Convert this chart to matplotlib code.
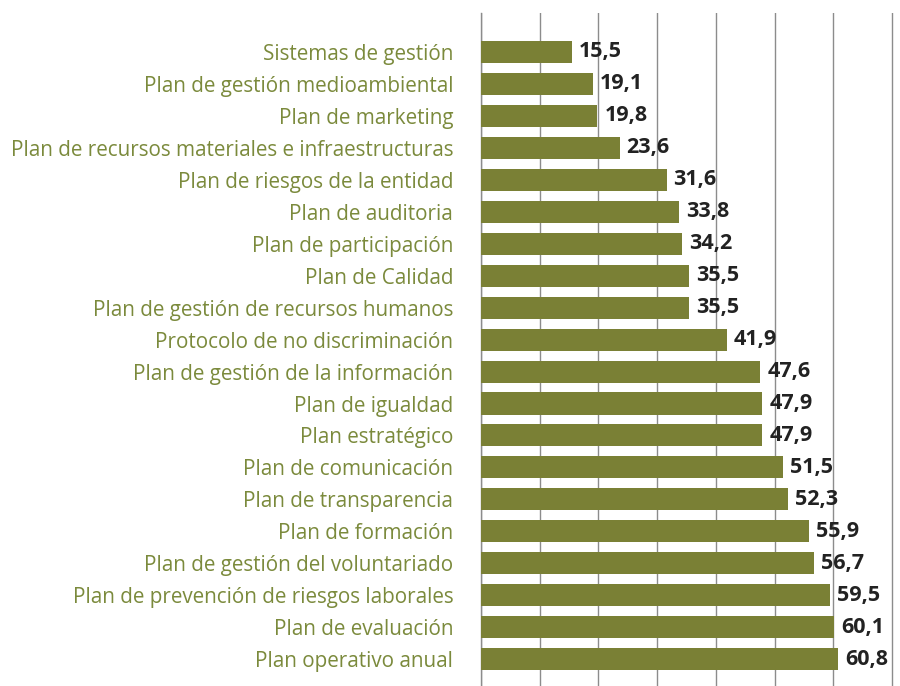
import matplotlib
matplotlib.use("Agg")
import matplotlib.pyplot as plt

categories = [
    "Sistemas de gestión",
    "Plan de gestión medioambiental",
    "Plan de marketing",
    "Plan de recursos materiales e infraestructuras",
    "Plan de riesgos de la entidad",
    "Plan de auditoria",
    "Plan de participación",
    "Plan de Calidad",
    "Plan de gestión de recursos humanos",
    "Protocolo de no discriminación",
    "Plan de gestión de la información",
    "Plan de igualdad",
    "Plan estratégico",
    "Plan de comunicación",
    "Plan de transparencia",
    "Plan de formación",
    "Plan de gestión del voluntariado",
    "Plan de prevención de riesgos laborales",
    "Plan de evaluación",
    "Plan operativo anual",
]
values = [15.5, 19.1, 19.8, 23.6, 31.6, 33.8, 34.2, 35.5, 35.5, 41.9,
          47.6, 47.9, 47.9, 51.5, 52.3, 55.9, 56.7, 59.5, 60.1, 60.8]
value_labels = [f"{v:.1f}".replace(".", ",") for v in values]

bar_color = "#7a8035"
label_color = "#7b8a3c"

fig = plt.figure(figsize=(9, 6.86), dpi=100)
ax = fig.add_axes([481/900, 0, 413/900, 1 - 13/686])

ypos = list(range(len(categories)))
ax.barh(ypos, values, height=0.69, color=bar_color, zorder=3)

ax.set_xlim(0, 70 * 413 / 411)
ax.set_ylim(19.84, -1.22)
ax.set_xticks(range(0, 71, 10))
ax.xaxis.grid(True, color="#8c8c8c", linewidth=1.0, zorder=0)
ax.tick_params(axis="x", length=0, labelbottom=False)
ax.tick_params(axis="y", length=0, pad=20)
ax.set_yticks(ypos)
ax.set_yticklabels(categories, fontsize=14.9, color=label_color, family="Open Sans")
for s in ["top", "right", "bottom"]:
    ax.spines[s].set_visible(False)
ax.spines["left"].set_color("#8c8c8c")
ax.spines["left"].set_linewidth(1.0)

for y, v, t in zip(ypos, values, value_labels):
    ax.text(v + 1.2, y, t, va="center", ha="left", fontsize=15.5,
            fontweight="bold", color="#222222", family="Open Sans", zorder=4)

fig.savefig("out.png", dpi=100)
